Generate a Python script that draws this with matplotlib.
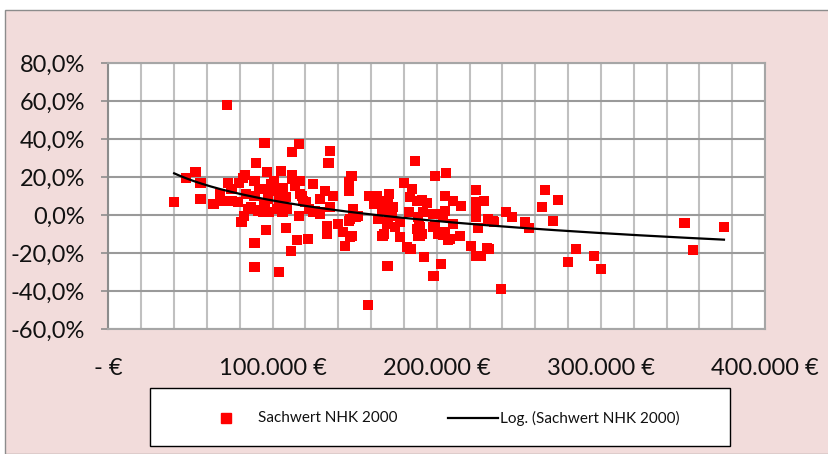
import numpy as np
import matplotlib
matplotlib.use("Agg")
import matplotlib.pyplot as plt
from matplotlib.patches import Rectangle
from matplotlib.lines import Line2D
from matplotlib.ticker import FixedLocator, MultipleLocator, FuncFormatter

# Data: price (thousand €) and deviation (%)
price_k = [40, 47, 53, 56, 56, 64, 72, 68, 73, 70, 75, 79, 79.5, 83, 82, 82.5, 81, 89, 89, 89,
           90, 89, 95, 96.5, 96, 93, 94, 87, 98, 99, 102, 104, 105, 104, 106, 108, 108, 111, 112, 112,
           116, 116.6, 113.6, 118, 115, 116, 121.5, 120, 124.5, 124.5, 129, 132, 135, 134, 137, 135, 133, 133,
           140, 143, 147, 144, 146.5, 146.5, 146.5, 148, 149, 152, 158, 159, 163.5, 165, 168, 170, 171, 170,
           172.6, 177.5, 177.5, 182, 184, 183.6, 180, 186.7, 183, 188, 188, 188.5, 199, 205.5, 190, 194, 205,
           210, 215, 224, 224, 229, 224, 224, 225, 231, 235, 242, 246, 254, 256, 266, 274, 264, 271, 285,
           280, 296, 300, 239, 221, 224, 227, 230.5, 214, 207, 204, 202.5, 198, 192, 190, 190, 197.6, 201,
           210, 204, 199, 351, 356, 375, 75, 104, 98, 101, 106, 109, 116.6, 120, 129, 129, 112, 103, 106,
           118.5, 126, 122, 151, 147, 167, 170, 191, 170, 167, 189, 191, 199, 205, 208, 191.5, 197.6, 205,
           234, 232, 148, 85, 91, 95, 84, 92, 97, 162, 167, 164, 173, 174.5, 185, 188.5]
deviation_pct = [6.8, 19.5, 22.6, 16.8, 8.4, 5.8, 57.9, 11.0, 16.8, 7.4, 7.4, 6.8, 16.8, 21.0, 19.5, -0.5, -3.7, -14.7, -27.4, 10.0,
                 27.4, 17.9, 37.9, 22.6, -7.9, 2.6, 1.6, 4.2, 1.6, 16.3, 12.6, -30.0, 23.1, 3.2, 1.6, -6.8, 9.5, -18.9, 33.1, 21.0,
                 37.3, 17.9, 15.3, 10.0, -13.2, -0.5, -12.6, 6.8, 16.3, 1.6, 0.5, 12.6, 33.7, 27.4, 10.0, 4.2, -5.8, -10.0,
                 -4.7, -8.9, -11.6, -16.3, -3.2, 12.6, 17.4, 20.5, 3.2, -0.5, -47.4, 10.0, 10.0, 6.8, -10.0, -26.8, 11.0, -3.7,
                 -0.5, -11.6, -3.7, -16.8, -17.9, 9.5, 16.8, 28.4, 1.6, 7.4, -7.4, -11.0, 20.5, 22.1, 7.4, 6.3, 10.0,
                 7.4, 4.7, 13.2, 6.8, 7.4, 2.1, -1.1, -6.8, -2.1, -3.7, 1.6, -1.1, -3.7, -6.8, 13.2, 7.9, 4.2, -3.2, -17.9,
                 -24.7, -21.6, -28.4, -38.9, -16.3, -21.6, -21.6, -17.4, -11.0, -13.2, -10.5, -25.8, -32.1, -22.1, -11.0, -6.3, -6.3, -10.0,
                 -4.7, -1.1, 0.5, -4.2, -18.4, -6.3, 13.7, 8.4, 13.7, 17.9, 14.2, 3.2, 11.0, 6.8, 8.4, 1.6, 18.9, 3.2, 7.4,
                 7.4, 2.1, 3.2, -1.1, -2.1, 7.4, 6.8, 7.9, -4.7, -11.0, -5.8, -10.0, -5.8, -8.9, -12.6, 1.6, 0.5, 2.1,
                 -3.2, -17.9, -11.0, 3.2, 2.1, 5.8, 11.0, 13.7, 8.4, 5.8, 2.1, -2.1, 4.2, -6.3, 13.7, -1.1]

x_tick_values = [0, 100000, 200000, 300000, 400000]
x_tick_labels = ["- €", "100.000 €", "200.000 €", "300.000 €", "400.000 €"]
y_tick_values = [-0.6, -0.4, -0.2, 0.0, 0.2, 0.4, 0.6, 0.8]
series_name = "Sachwert NHK 2000"
trend_name = "Log. (Sachwert NHK 2000)"

x = np.array(price_k) * 1000.0
y = np.array(deviation_pct) / 100.0

W, H = 829, 454
fig = plt.figure(figsize=(W / 100, H / 100), dpi=100)
fig.patch.set_facecolor("white")
FONT = "Lato"

# chart area background (pink) with gray border
fig.patches.append(Rectangle((5 / W, 0), 1.2, 1 - 10 / H, transform=fig.transFigure,
                             facecolor="#F2DCDB", edgecolor="#8c8c8c", linewidth=1.0, zorder=-10))

ax = fig.add_axes([108.5 / W, 1 - 329 / H, (765 - 108.5) / W, (329 - 63) / H])
ax.set_zorder(1)
ax.set_facecolor("white")
ax.set_xlim(0, 400000)
ax.set_ylim(-0.6, 0.8)

# grid
ax.xaxis.set_major_locator(FixedLocator(x_tick_values))
ax.xaxis.set_minor_locator(MultipleLocator(20000))
ax.yaxis.set_major_locator(FixedLocator(y_tick_values))
ax.grid(which="minor", axis="x", color="#c0c0c0", linewidth=1.5)
ax.grid(which="major", axis="x", color="#c0c0c0", linewidth=1.5)
ax.grid(which="major", axis="y", color="#9a9a9a", linewidth=1.5)
ax.set_axisbelow(True)
for s in ax.spines.values():
    s.set_color("#a6a6a6")
    s.set_linewidth(1.5)
ax.spines["left"].set_color("#8c8c8c")

ax.set_xticklabels(x_tick_labels)
ax.yaxis.set_major_formatter(FuncFormatter(lambda v, p: f"{v*100:.1f}%".replace(".", ",")))
ax.tick_params(axis="x", which="both", length=0, pad=21, labelsize=17, labelcolor="#111111")
ax.tick_params(axis="y", which="major", length=5, width=1.2, color="#8c8c8c", pad=12,
               labelsize=17, labelcolor="#111111")
for lab in ax.get_xticklabels() + ax.get_yticklabels():
    lab.set_fontfamily(FONT)

# scatter
ax.scatter(x, y, marker="s", s=54, color="#ff0000", edgecolors="none", zorder=3)

# logarithmic trend line
a, b = np.polyfit(np.log(x), y, 1)
xt = np.linspace(x.min(), x.max(), 300)
ax.plot(xt, a * np.log(xt) + b, color="black", linewidth=1.6, zorder=4)

# legend (drawn in figure coordinates)
fig.patches.append(Rectangle((150 / W, 1 - 446 / H), 580 / W, 58 / H, transform=fig.transFigure,
                             facecolor="white", edgecolor="black", linewidth=1.0, zorder=5))
ly = 1 - 418 / H
fig.lines.append(Line2D([226 / W], [ly], transform=fig.transFigure, marker="s", markersize=6.5,
                        color="#ff0000", linestyle="none", zorder=6))
fig.text(258 / W, ly, series_name, fontsize=11, family=FONT, va="center", ha="left", color="#111111", zorder=6)
fig.lines.append(Line2D([448 / W, 498 / W], [ly, ly], transform=fig.transFigure, color="black",
                        linewidth=1.6, zorder=6))
fig.text(500 / W, ly, trend_name, fontsize=11, family=FONT, va="center", ha="left", color="#111111", zorder=6)

fig.savefig("out.png", dpi=100, facecolor=fig.get_facecolor())
